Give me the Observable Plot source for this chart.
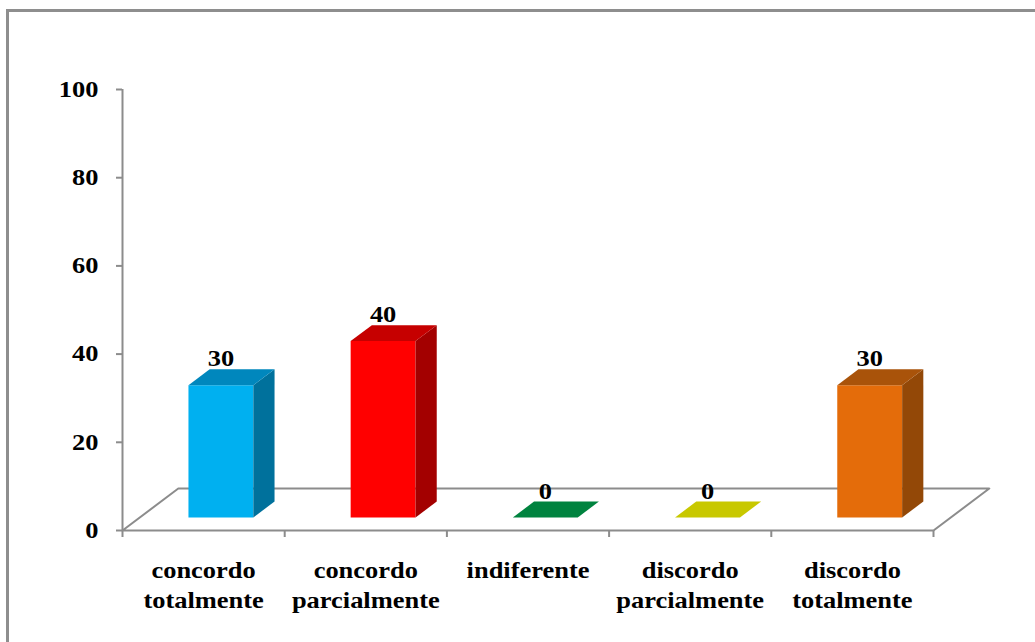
<!DOCTYPE html>
<html>
<head>
<meta charset="utf-8">
<script src="https://cdn.jsdelivr.net/npm/d3@7"></script>
<script src="https://cdn.jsdelivr.net/npm/@observablehq/plot@0.6"></script>
<style>
  html, body { margin: 0; padding: 0; background: #fff; }
  #frame {
    position: absolute; left: 6px; top: 9px; width: 1100px; height: 700px;
    border-top: 3px solid #8e8e8e; border-left: 3px solid #8e8e8e;
  }
  #chart { position: absolute; left: 0; top: 0; }
</style>
</head>
<body>
<div id="frame"></div>
<div id="chart"></div>
<script>
// Survey answers (percent of respondents)
const categories = ["concordo totalmente", "concordo parcialmente", "indiferente", "discordo parcialmente", "discordo totalmente"];
const axisLabels = ["concordo\ntotalmente", "concordo\nparcialmente", "indiferente", "discordo\nparcialmente", "discordo\ntotalmente"];
const values = [30, 40, 0, 0, 30];
const yTicks = [0, 20, 40, 60, 80, 100];

// Face colours of each 3-D column: front, top, right side
const frontColors = ["#00B0F0", "#FF0000", "#00A050", "#E0E000", "#E46C0A"];
const topColors = ["#0087BD", "#C60000", "#00833F", "#C8C800", "#A9530A"];
const sideColors = ["#00719C", "#A30000", "#006030", "#A0A000", "#934807"];

// Oblique projection: depth 0 = front of the floor, 1 = back of the floor
const DEPTH_X = 0.344;   // horizontal shift per unit depth (category units)
const DEPTH_Y = 9.52;    // vertical shift per unit depth (value units)
const BAR_WIDTH = 0.4;   // share of a category slot
const BAR_FRONT = 0.31;  // depth of column front face
const BAR_BACK = 0.69;   // depth of column back face

const project = (x, y, d) => ({x: x + DEPTH_X * d, y: y + DEPTH_Y * d});

// Build polygons for every column face
const faces = [];
values.forEach((v, i) => {
  const xl = i + 0.5 - BAR_WIDTH / 2, xr = i + 0.5 + BAR_WIDTH / 2;
  const add = (id, color, pts) => pts.forEach(([x, y, d]) => faces.push({id, color, ...project(x, y, d)}));
  if (v > 0) {
    add(`front-${i}`, frontColors[i], [[xl, 0, BAR_FRONT], [xr, 0, BAR_FRONT], [xr, v, BAR_FRONT], [xl, v, BAR_FRONT]]);
    add(`side-${i}`, sideColors[i], [[xr, 0, BAR_FRONT], [xr, 0, BAR_BACK], [xr, v, BAR_BACK], [xr, v, BAR_FRONT]]);
  }
  add(`top-${i}`, topColors[i], [[xl, v, BAR_FRONT], [xr, v, BAR_FRONT], [xr, v, BAR_BACK], [xl, v, BAR_BACK]]);
});

// Floor outline
const n = categories.length;
const floor = [[0, 0, 0], [n, 0, 0], [n, 0, 1], [0, 0, 1], [0, 0, 0]].map(([x, y, d]) => project(x, y, d));

// Value labels sit above the back edge of each column top
const valueLabels = values.map((v, i) => ({
  label: String(v),
  x: i + 0.5 + DEPTH_X * BAR_FRONT,
  y: v + DEPTH_Y * BAR_BACK
}));

const gray = "#8c8c8c";
const WIDEN = 1.15;

const svg = Plot.plot({
  width: 1035,
  height: 642,
  marginLeft: 122,
  marginRight: 102,
  marginTop: 89,
  marginBottom: 112,
  style: {fontFamily: "'Liberation Serif', 'Times New Roman', serif", fontWeight: "bold", fontSize: "23px", color: "#000", background: "transparent"},
  x: {type: "linear", domain: [0, n], axis: null},
  y: {domain: [0, 100], axis: null},
  color: {type: "identity"},
  marks: [
    Plot.line(floor, {x: "x", y: "y", stroke: gray, strokeWidth: 2}),
    Plot.ruleX([0], {y1: 0, y2: 100, stroke: gray, strokeWidth: 2, strokeOpacity: 1}),
    Plot.axisY({ticks: yTicks, tickSize: 6, tickPadding: 18, stroke: gray, strokeWidth: 2, strokeOpacity: 1, fill: "#000", fontWeight: "bold", fontSize: 23, label: null}),
    Plot.axisX({ticks: d3.range(n + 1), tickSize: 7, tickFormat: () => "", stroke: gray, strokeWidth: 2, strokeOpacity: 1, label: null}),
    Plot.line(faces, {x: "x", y: "y", z: "id", fill: "color", stroke: "none", curve: "linear"}),
    Plot.text(valueLabels, {x: "x", y: "y", text: "label", lineAnchor: "bottom", dy: -3, fill: "#000", fontWeight: "bold", fontSize: 23}),
    Plot.text(axisLabels, {x: (d, i) => i + 0.5, frameAnchor: "bottom", text: d => d, lineAnchor: "top", lineHeight: 1.3, dy: 26, fill: "#000", fontWeight: "bold", fontSize: 23})
  ]
});

// Widen the serif glyphs horizontally around each label's anchor point:
// a horizontal scale is appended, and any x offsets are divided to compensate.
const shrinkX = el => {
  for (const attr of ["x", "dx"]) {
    const v = el.getAttribute(attr);
    if (v === null) continue;
    const m = /^(-?[\d.]+)(.*)$/.exec(v.trim());
    if (m) el.setAttribute(attr, `${+m[1] / WIDEN}${m[2]}`);
  }
};
svg.querySelectorAll("text").forEach(t => {
  shrinkX(t);
  t.querySelectorAll("tspan").forEach(shrinkX);
  const tr = t.getAttribute("transform") || "";
  t.setAttribute("transform", `${tr} scale(${WIDEN},1)`.trim());
});

document.getElementById("chart").appendChild(svg);
</script>
</body>
</html>
